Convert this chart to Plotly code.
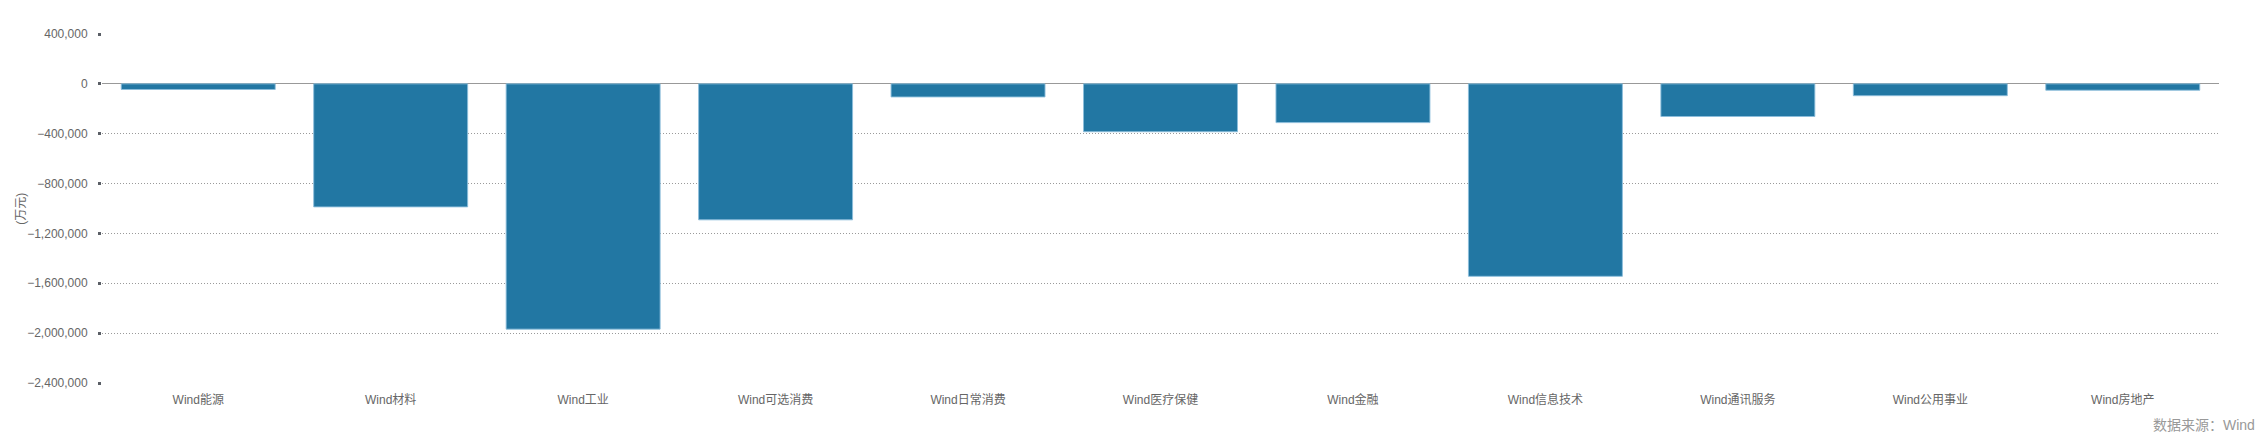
import plotly.graph_objects as go

categories = ["Wind能源", "Wind材料", "Wind工业", "Wind可选消费", "Wind日常消费",
              "Wind医疗保健", "Wind金融", "Wind信息技术", "Wind通讯服务",
              "Wind公用事业", "Wind房地产"]
values = [-45000, -987000, -1968000, -1091000, -105000,
          -384000, -311000, -1544000, -262000, -95000, -51000]
y_ticks = [400000, 0, -400000, -800000, -1200000, -1600000, -2000000, -2400000]
y_unit = "(万元)"
source_text = "数据来源：Wind"

FONT = "Liberation Sans, Arial, Noto Sans CJK SC, sans-serif"

fig = go.Figure()
fig.add_trace(go.Bar(
    x=categories, y=values,
    marker=dict(color="#2277A3", line=dict(color="rgba(140,190,220,0.9)", width=1)),
    hoverinfo="x+y",
))

# page body has an 8px default margin: figure is sized so the page fits the window exactly
fig.update_layout(
    width=2252, height=426,
    margin=dict(l=94, r=41, t=26, b=51, autoexpand=False),
    paper_bgcolor="white", plot_bgcolor="white",
    bargap=0.2,
    showlegend=False,
    font=dict(family=FONT, size=12, color="#666666"),
)
fig.update_xaxes(
    type="category",
    showgrid=False, showline=False, zeroline=False,
    ticks="", tickfont=dict(size=12, color="#666666"),
    ticklabelstandoff=8,
)
fig.update_yaxes(
    range=[-2400000, 400000],
    tickvals=y_ticks,
    tickformat=",d",
    showgrid=True, gridcolor="#9a9a9a", griddash="1px,2px", gridwidth=1,
    zeroline=True, zerolinecolor="#999999", zerolinewidth=1,
    showline=False,
    ticks="outside", ticklen=3, tickwidth=3, tickcolor="#5a5f66",
    tickfont=dict(size=12, color="#666666"),
    ticklabelstandoff=8,
)
fig.add_annotation(
    text=y_unit, xref="paper", yref="paper", x=-0.0386, y=0.5,
    textangle=-90, showarrow=False, xanchor="center", yanchor="middle",
    font=dict(size=12, color="#666666"),
)
fig.add_annotation(
    text=source_text, xref="paper", yref="paper", x=1.018, y=-0.1195,
    showarrow=False, xanchor="right", yanchor="middle",
    font=dict(size=14, color="#999999"),
)

fig.write_html("out.html")
